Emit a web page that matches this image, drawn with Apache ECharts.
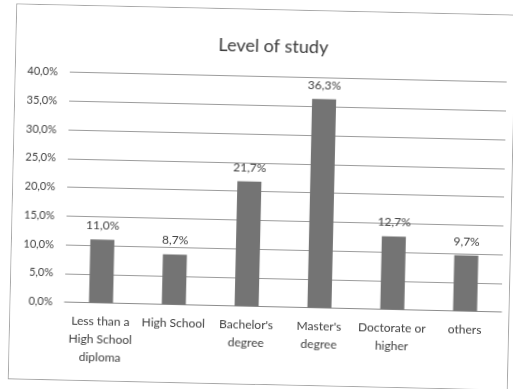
<!DOCTYPE html>
<html>
<head>
<meta charset="utf-8">
<script src="https://cdn.jsdelivr.net/npm/echarts@6/dist/echarts.min.js"></script>
<style>
  html, body { margin: 0; padding: 0; background: #ffffff; width: 513px; height: 389px; overflow: hidden; }
  #frame { position: absolute; left: 12px; top: 9px; width: 500px; height: 376px; box-sizing: border-box;
           border: 1px solid #a8a8a8; transform: rotate(1.3deg); transform-origin: 50% 50%; background: #fff; }
  #chart { position: absolute; left: 0; top: 0; width: 498px; height: 374px; }
</style>
</head>
<body>
<div id="frame"><div id="chart"></div></div>
<script>
const titleText = 'Level of study';
const categories = ['Less than a\nHigh School\ndiploma', 'High School', "Bachelor's\ndegree", "Master's\ndegree", 'Doctorate or\nhigher', 'others'];
const values = [11.0, 8.7, 21.7, 36.3, 12.7, 9.7];
const yTicks = { min: 0, max: 40, interval: 5 };

const fmt = v => Number(v).toFixed(1).replace('.', ',') + '%';
const fontFamily = 'Lato, "Open Sans", sans-serif';

const chart = echarts.init(document.getElementById('chart'));
chart.setOption({
  animation: false,
  backgroundColor: '#ffffff',
  title: {
    text: titleText,
    left: 252,
    textAlign: 'center',
    top: 22,
    textStyle: { fontFamily, fontSize: 18, fontWeight: 'normal', color: '#3a3a3a' }
  },
  grid: { left: 54, right: 7, top: 66.5, bottom: 77.5, containLabel: false },
  xAxis: {
    type: 'category',
    data: categories,
    axisLine: { show: true, lineStyle: { color: '#8c8c8c', width: 1 } },
    axisTick: { show: false },
    axisLabel: { interval: 0, margin: 10, fontFamily, fontSize: 12, lineHeight: 18, color: '#404040' }
  },
  yAxis: {
    type: 'value',
    min: yTicks.min, max: yTicks.max, interval: yTicks.interval,
    axisLine: { show: false },
    axisTick: { show: false },
    splitLine: { lineStyle: { color: '#9c9c9c', width: 1 } },
    axisLabel: { margin: 12, fontFamily, fontSize: 11, color: '#404040', formatter: fmt }
  },
  series: [{
    type: 'bar',
    data: values,
    barWidth: '33%',
    itemStyle: { color: '#747474' },
    label: { show: true, position: 'top', distance: 8, fontFamily, fontSize: 12, color: '#404040', formatter: p => fmt(p.value) }
  }]
});
</script>
</body>
</html>
